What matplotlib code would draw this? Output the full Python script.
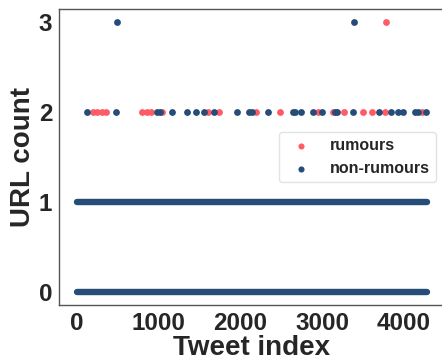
import numpy as np
import matplotlib.pyplot as plt

plt.rcParams['font.family'] = ['Liberation Sans', 'DejaVu Sans']
plt.rcParams['font.weight'] = 'bold'

RED = '#ff5a66'
BLUE = '#264c78'

# tweet index range: URL counts 0 and 1 occur everywhere along the index
first_index = 0
last_index = 4280
dense_counts = [0, 1]

# sparse points (URL count 2 and 3)
rumour_x = [203, 252, 306, 355, 795, 856, 905, 1039, 1609, 1743, 2192, 2485,
            2954, 3130, 3268, 3496, 3606, 3769, 4218, 3785]
rumour_y = [2] * 19 + [3]

nonrumour_x = [130, 477, 978, 1018, 1161, 1345, 1458, 1560, 1678, 1956, 2110,
               2139, 2342, 2641, 2669, 2738, 2892, 2995, 3158, 3186, 3381,
               3699, 3842, 3932, 3993, 4136, 4176, 4270, 489, 3386]
nonrumour_y = [2] * 28 + [3, 3]

fig = plt.figure(figsize=(4.42, 3.63), dpi=100)
ax = fig.add_axes([0.134, 0.1598, 0.871, 0.8154])

ax.scatter(rumour_x, rumour_y, s=24, color=RED, linewidths=0, label='rumours')
ax.scatter(nonrumour_x, nonrumour_y, s=24, color=BLUE, linewidths=0,
           label='non-rumours')
for c in dense_counts:
    ax.plot([first_index, last_index], [c, c], color=BLUE, lw=4.6,
            solid_capstyle='round')

ax.set_yticks([0, 1, 2, 3])
ax.set_xticks([0, 1000, 2000, 3000, 4000])
ax.tick_params(length=0, labelsize=17.5, pad=5)
for lab in ax.get_xticklabels() + ax.get_yticklabels():
    lab.set_fontweight('bold')
    lab.set_color('#262626')
for sp in ax.spines.values():
    sp.set_color('#555555')
    sp.set_linewidth(1.0)

ax.set_xlabel('Tweet index', fontsize=20, fontweight='bold', color='#262626',
              labelpad=0)
ax.set_ylabel('URL count', fontsize=20, fontweight='bold', color='#262626',
              labelpad=2)

leg = ax.legend(loc='center right', fontsize=11.5, frameon=True,
                handletextpad=0.8, markerscale=0.9)
leg.get_frame().set_edgecolor('#dddddd')
for t in leg.get_texts():
    t.set_color('#262626')

fig.savefig('out.png', dpi=100)
